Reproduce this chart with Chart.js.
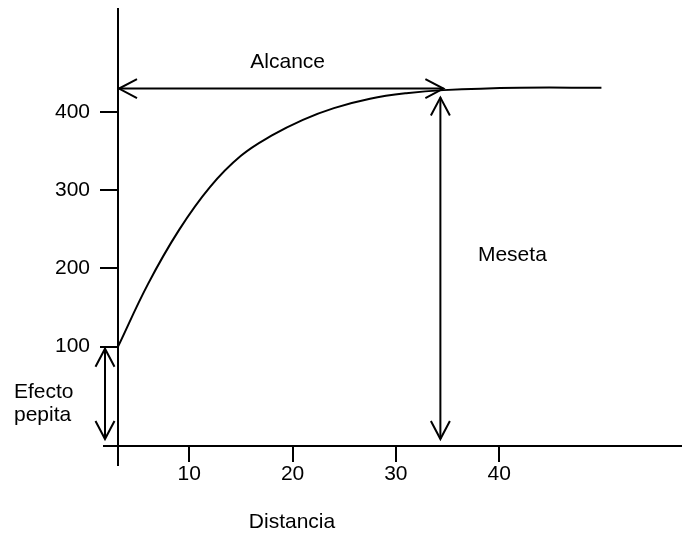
<!DOCTYPE html>
<html>
<head>
<meta charset="utf-8">
<script src="https://cdn.jsdelivr.net/npm/chart.js@4"></script>
<style>
  html, body { margin: 0; padding: 0; background: #fff; }
</style>
</head>
<body>
<canvas id="chart" width="682" height="533"></canvas>
<script>
// Variogram sketch: nugget effect, sill and range

const distance = [3.1, 6, 9, 12, 15, 18, 21, 24, 27.5, 31, 34.6, 42.0, 49.9];
const semivar  = [100, 180, 249, 304, 344, 370, 390, 405, 417, 424, 428, 431, 431];
const xTicks = [10, 20, 30, 40];
const yTicks = [100, 200, 300, 400];
const nugget = 100;   // Efecto pepita
const sill = 430;     // Meseta
const range = 34.6;   // Alcance
const FONT = '"Liberation Sans", Arial, sans-serif';

function line(ctx, x1, y1, x2, y2) {
  ctx.beginPath();
  ctx.moveTo(x1, y1);
  ctx.lineTo(x2, y2);
  ctx.stroke();
}

// open V head at (tx,ty), pointing away from (fx,fy)
function head(ctx, tx, ty, fx, fy) {
  const len = Math.hypot(tx - fx, ty - fy);
  const dx = (tx - fx) / len, dy = (ty - fy) / len;
  const L = 18, H = 9.5;
  ctx.beginPath();
  ctx.moveTo(tx - L * dx - H * dy, ty - L * dy + H * dx);
  ctx.lineTo(tx, ty);
  ctx.lineTo(tx - L * dx + H * dy, ty - L * dy - H * dx);
  ctx.stroke();
}

function arrow(ctx, x1, y1, x2, y2) {
  line(ctx, x1, y1, x2, y2);
  head(ctx, x1, y1, x2, y2);
  head(ctx, x2, y2, x1, y1);
}

const sketch = {
  id: 'sketch',
  afterDraw(chart) {
    const { ctx, scales: { x, y } } = chart;
    const x0 = x.getPixelForValue(x.min);
    const y0 = y.getPixelForValue(y.min);
    const ys = y.getPixelForValue(sill);
    const yn = y.getPixelForValue(nugget);
    const xr = x.getPixelForValue(range);

    ctx.save();
    ctx.strokeStyle = '#000';
    ctx.lineWidth = 2;

    // axes, both run a little past the origin
    line(ctx, x0, y.top, x0, y0 + 20);
    line(ctx, x0 - 15, y0, x.right, y0);

    arrow(ctx, x0 + 1, ys, xr, ys);               // alcance
    arrow(ctx, xr - 3, ys + 9, xr - 3, y0 - 7);   // meseta
    arrow(ctx, x0 - 13, yn + 2, x0 - 13, y0 - 7); // efecto pepita

    ctx.fillStyle = '#000';
    ctx.font = '21px ' + FONT;
    ctx.textBaseline = 'middle';
    ctx.textAlign = 'center';
    ctx.fillText('Alcance', (x0 + xr) / 2 + 7, ys - 26);
    ctx.fillText('Meseta', xr + 69, (ys + y0) / 2 - 12);
    ctx.fillText('Distancia', x0 + 174, y0 + 76);
    ctx.textAlign = 'left';
    ctx.fillText('Efecto', x0 - 104, yn + 46);
    ctx.fillText('pepita', x0 - 104, yn + 69);
    ctx.restore();
  }
};

new Chart(document.getElementById('chart'), {
  type: 'line',
  data: {
    datasets: [{
      data: distance.map((d, i) => ({ x: d, y: semivar[i] })),
      borderColor: '#000',
      borderWidth: 2,
      pointRadius: 0,
      tension: 0.4,
      fill: false
    }]
  },
  options: {
    responsive: false,
    animation: false,
    devicePixelRatio: 1,
    layout: { padding: { top: 8, right: 0, left: 0, bottom: 0 } },
    plugins: { legend: { display: false }, tooltip: { enabled: false } },
    scales: {
      x: {
        type: 'linear',
        min: 3.1,
        max: 57.7,
        afterBuildTicks: (s) => { s.ticks = xTicks.map(v => ({ value: v })); },
        afterFit: (s) => { s.height = 87; s.paddingLeft = 0; s.paddingRight = 0; },
        border: { display: false },
        grid: { drawOnChartArea: false, drawTicks: true, tickLength: 16, color: '#000', lineWidth: 2 },
        ticks: { color: '#000', font: { family: FONT, size: 21 }, padding: 0, maxRotation: 0, autoSkip: false }
      },
      y: {
        type: 'linear',
        min: -27,
        max: 533,
        afterBuildTicks: (s) => { s.ticks = yTicks.map(v => ({ value: v })); },
        afterFit: (s) => { s.width = 118; s.paddingTop = 0; s.paddingBottom = 0; },
        border: { display: false },
        grid: { drawOnChartArea: false, drawTicks: true, tickLength: 18, color: '#000', lineWidth: 2 },
        ticks: { color: '#000', font: { family: FONT, size: 21 }, padding: 10, autoSkip: false }
      }
    }
  },
  plugins: [sketch]
});
</script>
</body>
</html>
